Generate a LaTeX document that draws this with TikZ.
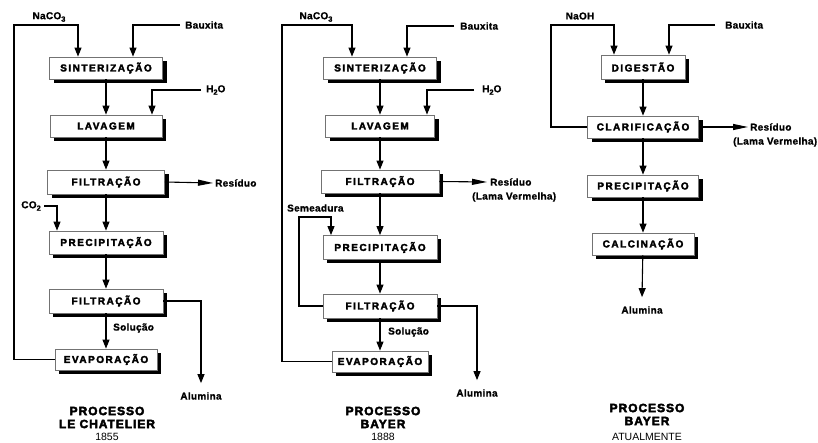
\documentclass[tikz,border=0pt]{standalone}
\usepackage{fontspec}
\setmainfont{Liberation Sans}
\newfontfamily\boxfont[LetterSpace=15,FakeBold=3]{Liberation Sans Bold}
\newfontfamily\lblfont[LetterSpace=3,FakeBold=1]{Liberation Sans Bold}
\newfontfamily\ttlfont[LetterSpace=8,FakeBold=3.5]{Liberation Sans Bold}
\usetikzlibrary{arrows.meta,shadows}
\tikzset{
  box/.style={draw=black!55, line width=0.8pt, fill=white, inner sep=0pt,
    minimum height=22pt, font={\boxfont\fontsize{10}{12}\selectfont},
    drop shadow={shadow xshift=4pt, shadow yshift=-4pt, fill=black, opacity=1}},
  lbl/.style={inner sep=0pt, font={\lblfont\fontsize{10}{12}\selectfont}},
  ttl/.style={inner sep=0pt, font={\ttlfont\fontsize{12}{14}\selectfont}},
  yr/.style={inner sep=0pt, font={\fontsize{10.5}{12}\selectfont}},
  arr/.style={line width=1.1pt, -{Triangle[length=9pt,width=7pt]}},
  arrR/.style={line width=1.1pt, -{Triangle[length=15pt,width=6pt]}}
}
\newcommand{\sbs}[1]{\raisebox{-2.5pt}{\fontsize{7.5}{8}\selectfont #1}}
\begin{document}
\begin{tikzpicture}[x=1pt,y=-1pt]
\useasboundingbox (0,0) rectangle (818,443);
% ---------- Column 1: Le Chatelier ----------
\node[box, minimum width=113pt, minimum height=22pt] (s1) at (106,68) {SINTERIZAÇÃO};
\node[box, minimum width=112pt, minimum height=22pt] (l1) at (106,126) {LAVAGEM};
\node[box, minimum width=117pt, minimum height=24pt] (f1) at (106,182) {FILTRAÇÃO};
\node[box, minimum width=114pt, minimum height=23pt] (p1) at (106,242.5) {PRECIPITAÇÃO};
\node[box, minimum width=114pt, minimum height=24pt] (g1) at (106,301) {FILTRAÇÃO};
\node[box, minimum width=102pt, minimum height=21pt] (e1) at (106,359.5) {EVAPORAÇÃO};
\node[lbl] (nc1) at (49,17) {NaCO\sbs{3}};
\node[lbl, anchor=west] (bx1) at (185,25) {Bauxita};
\node[lbl, anchor=west] (h1) at (206,90) {H\sbs{2}O};
\node[lbl, anchor=west] (r1) at (215,183) {Resíduo};
\node[lbl, anchor=east] (co1) at (41,206) {CO\sbs{2}};
\node[lbl, anchor=west] (so1) at (113,328) {Solução};
\node[lbl] (al1) at (201,396) {Alumina};
\node[ttl] (t1a) at (107,411) {PROCESSO};
\node[ttl] (t1b) at (107,424) {LE CHATELIER};
\node[yr] (y1) at (107,437) {1855};
\draw[arr] (e1.west) -| (14,25) -| ([xshift=-28pt]s1.north);
\draw[arr] ([xshift=-5pt]bx1.west) -| ([xshift=27pt]s1.north);
\draw[arr] ([xshift=-5pt]h1.west) -| ([xshift=46pt]l1.north);
\draw[arr] (s1) -- (l1);
\draw[arr] (l1) -- (f1);
\draw[arr] (f1) -- (p1);
\draw[arr] (p1) -- (g1);
\draw[arr] (g1) -- (e1);
\draw[arrR] (f1.east) -- ([xshift=-2pt]r1.west);
\draw[arr] ([xshift=3pt]co1.east) -| ([xshift=-49pt]p1.north);
\draw[arr] (g1.east) -| ([yshift=9pt]al1.north);
% ---------- Column 2: Bayer 1888 ----------
\node[box, minimum width=113pt, minimum height=22pt] (s2) at (380,68) {SINTERIZAÇÃO};
\node[box, minimum width=109pt, minimum height=22pt] (l2) at (380,126) {LAVAGEM};
\node[box, minimum width=118pt, minimum height=23pt] (f2) at (380,181.5) {FILTRAÇÃO};
\node[box, minimum width=114pt, minimum height=24pt] (p2) at (380,247.5) {PRECIPITAÇÃO};
\node[box, minimum width=114pt, minimum height=24pt] (g2) at (380,306) {FILTRAÇÃO};
\node[box, minimum width=96pt, minimum height=21pt] (e2) at (380,361.5) {EVAPORAÇÃO};
\node[lbl] (nc2) at (316,17) {NaCO\sbs{3}};
\node[lbl, anchor=west] (bx2) at (460,26) {Bauxita};
\node[lbl, anchor=west] (h2) at (482,90) {H\sbs{2}O};
\node[lbl, anchor=west] (r2) at (490,182) {Resíduo};
\node[lbl, anchor=west] (lv2) at (472,197) {(Lama Vermelha)};
\node[lbl, anchor=west] (se2) at (287,208) {Semeadura};
\node[lbl, anchor=west] (so2) at (388,332) {Solução};
\node[lbl] (al2) at (477,393) {Alumina};
\node[ttl] (t2a) at (383,411) {PROCESSO};
\node[ttl] (t2b) at (383,424) {BAYER};
\node[yr] (y2) at (383,437) {1888};
\draw[arr] (e2.west) -| (282,25) -| ([xshift=-28pt]s2.north);
\draw[arr] ([xshift=-6pt]bx2.west) -| ([xshift=27pt]s2.north);
\draw[arr] ([xshift=-8pt]h2.west) -| ([xshift=47pt]l2.north);
\draw[arr] (s2) -- (l2);
\draw[arr] (l2) -- (f2);
\draw[arr] (f2) -- (p2);
\draw[arr] (p2) -- (g2);
\draw[arr] (g2) -- (e2);
\draw[arrR] (f2.east) -- ([xshift=-3pt]r2.west);
\draw[arr] (g2.west) -| (299,217) -| ([xshift=-49pt]p2.north);
\draw[arr] (g2.east) -| ([yshift=9pt]al2.north);
% ---------- Column 3: Bayer atual ----------
\node[box, minimum width=84pt, minimum height=24pt] (d3) at (643,67) {DIGESTÃO};
\node[box, minimum width=111pt, minimum height=22pt] (c3) at (643,127) {CLARIFICAÇÃO};
\node[box, minimum width=111pt, minimum height=22pt] (p3) at (643,186) {PRECIPITAÇÃO};
\node[box, minimum width=102pt, minimum height=22pt] (k3) at (643,244) {CALCINAÇÃO};
\node[lbl] (nh3) at (580,16) {NaOH};
\node[lbl, anchor=west] (bx3) at (725,25) {Bauxita};
\node[lbl, anchor=west] (r3) at (750,127) {Resíduo};
\node[lbl, anchor=west] (lv3) at (733,142) {(Lama Vermelha)};
\node[lbl] (al3) at (642,310) {Alumina};
\node[ttl] (t3a) at (647,408) {PROCESSO};
\node[ttl] (t3b) at (647,421) {BAYER};
\node[yr] (y3) at (647,437) {ATUALMENTE};
\draw[arr] (c3.west) -| (551,25) -| ([xshift=-29pt]d3.north);
\draw[arr] ([xshift=-10pt]bx3.west) -| ([xshift=26pt]d3.north);
\draw[arr] (d3) -- (c3);
\draw[arr] (c3) -- (p3);
\draw[arr] (p3) -- (k3);
\draw[arr] (k3) -- ([yshift=9pt]al3.north);
\draw[arrR] (c3.east) -- ([xshift=-2pt]r3.west);
\end{tikzpicture}
\end{document}
